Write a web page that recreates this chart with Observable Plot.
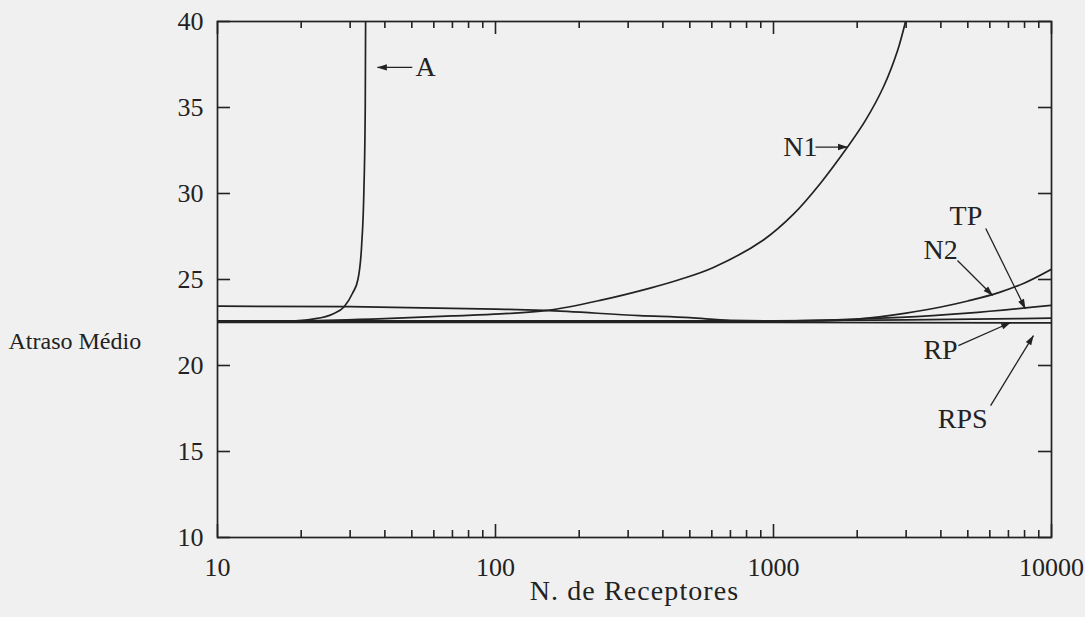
<!DOCTYPE html>
<html>
<head>
<meta charset="utf-8">
<script src="https://cdn.jsdelivr.net/npm/d3@7"></script>
<script src="https://cdn.jsdelivr.net/npm/@observablehq/plot@0.6"></script>
<style>
  html, body { margin: 0; padding: 0; background: #f0f0f0; }
  #chart svg { display: block; background: #f0f0f0; }
</style>
</head>
<body>
<div id="chart"></div>
<script>
// ---- data ----
const nA  = [10, 15, 18, 22, 26, 28.5, 30.6, 32, 33, 33.6, 34, 34.1];
const vA  = [22.55, 22.56, 22.58, 22.7, 23.0, 23.4, 24.2, 25.0, 27.0, 30.0, 35.0, 40.0];

const nN1 = [10, 20, 40, 70, 104, 154, 240, 360, 460, 608, 920, 1180, 1476, 1846, 2142, 2490, 2793, 2985];
const vN1 = [22.55, 22.58, 22.72, 22.88, 23.0, 23.2, 23.8, 24.5, 25.0, 25.7, 27.3, 28.8, 30.6, 32.7, 34.25, 36.22, 38.3, 40.0];

const nN2 = [10, 1500, 2000, 3000, 4000, 5000, 6500, 8000, 10000];
const vN2 = [22.6, 22.6, 22.7, 23.05, 23.4, 23.75, 24.25, 24.8, 25.6];

const nTP = [10, 1000, 2000, 2860, 4990, 10000];
const vTP = [22.58, 22.58, 22.7, 22.8, 23.05, 23.5];

const nRP = [10, 30, 100, 150, 330, 500, 700, 1000, 3000, 10000];
const vRP = [23.45, 23.42, 23.28, 23.2, 22.9, 22.78, 22.63, 22.6, 22.65, 22.75];

const nRPS = [10, 1000, 10000];
const vRPS = [22.5, 22.5, 22.48];

const seriesNames = ["A", "N1", "N2", "TP", "RP", "RPS"];
const seriesN = [nA, nN1, nN2, nTP, nRP, nRPS];
const seriesV = [vA, vN1, vN2, vTP, vRP, vRPS];

// annotation labels (data coordinates)
const labelText = ["A", "N1", "TP", "N2", "RP", "RPS"];
const labelN    = [56, 1250, 4920, 3990, 3990, 4790];
const labelV    = [37.33, 32.7, 28.7, 26.7, 20.9, 16.9];
const labelAnchor = ["start", "end", "middle", "middle", "middle", "middle"];

// annotation arrows (from -> to, data coordinates)
const arrowN1 = [50.2, 1416, 5800, 4590, 4625, 6040];
const arrowV1 = [37.33, 32.7, 27.97, 26.1, 21.16, 17.67];
const arrowN2 = [37.6, 1846, 8050, 6140, 7130, 8610];
const arrowV2 = [37.33, 32.7, 23.3, 24.07, 22.5, 21.74];

// ticks
const xMajor = [10, 100, 1000, 10000];
const xMajorLabels = ["10", "100", "1000", "10000"];
const xMinor = [20,30,40,50,60,70,80,90,200,300,400,500,600,700,800,900,2000,3000,4000,5000,6000,7000,8000,9000];
const yTicks = [10, 15, 20, 25, 30, 35, 40];
const yTickLabels = ["10", "15", "20", "25", "30", "35", "40"];

const xLabel = "N. de Receptores";
const yLabel = "Atraso Médio";

// ---- build tables ----
const lineData = seriesNames.flatMap((s, i) =>
  seriesN[i].map((n, j) => ({series: s, n, v: seriesV[i][j]})));
const labels = labelText.map((t, i) => ({t, n: labelN[i], v: labelV[i], a: labelAnchor[i]}));
const arrows = arrowN1.map((_, i) => ({x1: arrowN1[i], y1: arrowV1[i], x2: arrowN2[i], y2: arrowV2[i]}));

const ink = "#222";
const font = "'Liberation Serif', 'Times New Roman', serif";

// layout
const W = 1085, H = 617, mL = 217, mR = 34, mT = 21, mB = 80;
const fw = W - mL - mR, fh = H - mT - mB;
const minorLen = 7, majorLen = 13;

// filled triangular arrowheads on links
function filledHeads(index, scales, values, dims, context, next) {
  const g = next(index, scales, values, dims, context);
  g.querySelectorAll("marker").forEach(m => {
    m.setAttribute("viewBox", "-10 -5 11 10");
    m.setAttribute("markerWidth", 11);
    m.setAttribute("markerHeight", 10);
    m.setAttribute("markerUnits", "userSpaceOnUse");
    m.setAttribute("refX", 0);
    m.setAttribute("refY", 0);
    m.setAttribute("orient", "auto");
    m.querySelectorAll("path").forEach(p => {
      p.setAttribute("d", "M-9.5,-3.2L0.5,0L-9.5,3.2Z");
      p.setAttribute("fill", ink);
      p.setAttribute("stroke", "none");
    });
  });
  return g;
}
function spaced(px) {
  return (index, scales, values, dims, context, next) => {
    const g = next(index, scales, values, dims, context);
    g.querySelectorAll("text").forEach(t => t.setAttribute("letter-spacing", px));
    return g;
  };
}

const tickStyle = {stroke: ink, strokeWidth: 1.6};
const lineStyle = {x: "n", y: "v", z: "series", stroke: ink, strokeWidth: 1.7, clip: true};

const chart = Plot.plot({
  width: W,
  height: H,
  marginLeft: mL,
  marginRight: mR,
  marginTop: mT,
  marginBottom: mB,
  style: {fontFamily: font, fontSize: "26px", color: ink, background: "#f0f0f0"},
  x: {type: "log", domain: [10, 10000]},
  y: {domain: [10, 40]},
  marks: [
    Plot.frame({stroke: ink, strokeWidth: 1.7}),
    // inward ticks: bottom / top
    Plot.tickX(xMinor, {x: d => d, insetTop: fh - minorLen, ...tickStyle}),
    Plot.tickX(xMajor, {x: d => d, insetTop: fh - majorLen, ...tickStyle}),
    Plot.tickX(xMinor, {x: d => d, insetBottom: fh - minorLen, ...tickStyle}),
    Plot.tickX(xMajor, {x: d => d, insetBottom: fh - majorLen, ...tickStyle}),
    // inward ticks: left / right
    Plot.tickY(yTicks, {y: d => d, insetRight: fw - majorLen, ...tickStyle}),
    Plot.tickY(yTicks, {y: d => d, insetLeft: fw - majorLen, ...tickStyle}),
    // tick labels
    Plot.axisX(xMajor, {anchor: "bottom", tickSize: 0, tickPadding: 20, tickFormat: d => xMajorLabels[xMajor.indexOf(d)], label: null, fill: ink, fontSize: 26}),
    Plot.axisY(yTicks, {anchor: "left", tickSize: 0, tickPadding: 14, tickFormat: d => yTickLabels[yTicks.indexOf(d)], label: null, fill: ink, fontSize: 26}),
    // curves
    Plot.line(lineData.filter(d => d.series !== "N1"), {...lineStyle, curve: "monotone-x"}),
    Plot.line(lineData.filter(d => d.series === "N1"), {...lineStyle, curve: "catmull-rom"}),
    // arrows
    Plot.link(arrows, {x1: "x1", y1: "y1", x2: "x2", y2: "y2", stroke: ink, strokeWidth: 1.3, markerEnd: "arrow", curve: "linear", render: filledHeads}),
    // labels
    Plot.text(labels, {x: "n", y: "v", text: "t", textAnchor: d => d.a, fill: ink, fontSize: 28, lineAnchor: "middle"}),
    // axis titles
    Plot.text([xLabel], {frameAnchor: "bottom", dy: 54, textAnchor: "middle", lineAnchor: "middle", fill: ink, fontSize: 28, render: spaced(1.1)}),
    Plot.text([yLabel], {frameAnchor: "left", dx: -209, dy: 62, textAnchor: "start", lineAnchor: "middle", fill: ink, fontSize: 24})
  ]
});
document.getElementById("chart").appendChild(chart);
</script>
</body>
</html>
